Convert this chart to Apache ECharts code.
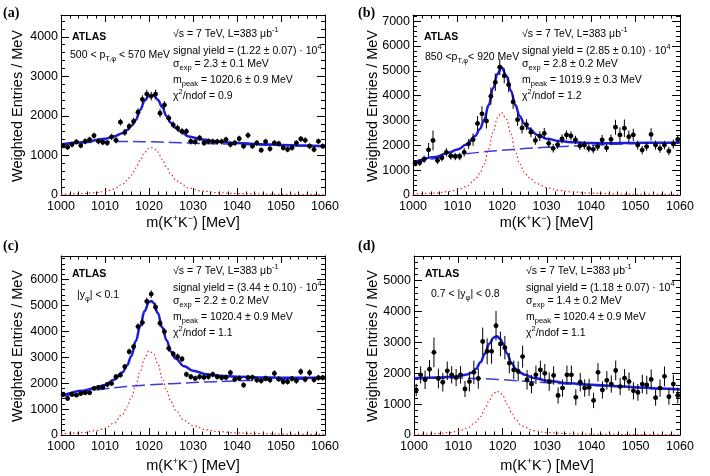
<!DOCTYPE html>
<html>
<head>
<meta charset="utf-8">
<script src="https://cdn.jsdelivr.net/npm/echarts@6/dist/echarts.min.js"></script>
<style>
  html, body { margin: 0; padding: 0; background: #fff; }
  #chart { width: 710px; height: 476px; }
</style>
</head>
<body>
<div id="chart"></div>
<script>
// bin centres, MeV
const massBins = [1000.5,1001.5,1002.5,1003.5,1004.5,1005.5,1006.5,1007.5,1008.5,1009.5,
  1010.5,1011.5,1012.5,1013.5,1014.5,1015.5,1016.5,1017.5,1018.5,1019.5,
  1020.5,1021.5,1022.5,1023.5,1024.5,1025.5,1026.5,1027.5,1028.5,1029.5,
  1030.5,1031.5,1032.5,1033.5,1034.5,1035.5,1036.5,1037.5,1038.5,1039.5,
  1040.5,1041.5,1042.5,1043.5,1044.5,1045.5,1046.5,1047.5,1048.5,1049.5,
  1050.5,1051.5,1052.5,1053.5,1054.5,1055.5,1056.5,1057.5,1058.5,1059.5];

// (a) 500 < pT < 570 MeV
const countsA = [1250,1208,1275,1342,1250,1358,1400,1500,1358,1333,
  1317,1467,1383,1842,1583,1733,1858,2092,2417,2550,
  2500,2550,2067,2275,1942,1775,1692,1608,1608,1358,
  1342,1442,1317,1358,1350,1350,1350,1400,1275,1317,
  1425,1233,1508,1233,1317,1133,1350,1167,1317,1300,
  1192,1150,1192,1317,1417,1383,1233,1150,1358,1233];
const errA = [70,70,70,70,70,75,75,75,75,75,
  75,80,80,85,85,90,95,100,105,110,
  110,110,105,100,95,90,85,85,80,80,
  75,75,75,75,75,75,75,75,75,75,
  75,75,75,75,75,70,70,70,70,70,
  70,70,70,70,75,75,75,70,70,70];
const fitAX = [1000,1005,1010,1012,1014,1015,1016,1017,1018,1019,1020,1020.6,1021,1022,1023,1024,1025,1026,1027,1029,1032,1036,1040,1045,1050,1055,1060];
const fitAY = [1280,1335,1420,1480,1560,1640,1750,1900,2150,2380,2510,2530,2520,2410,2220,1990,1820,1700,1620,1480,1400,1345,1315,1285,1265,1250,1235];
const bgAX = [1000,1005,1010,1015,1020,1025,1030,1035,1040,1045,1050,1055,1060];
const bgAY = [1275,1320,1350,1355,1345,1330,1310,1295,1280,1265,1250,1240,1225];
const sigAX = [1000,1004,1008,1010,1012,1014,1015,1016,1017,1018,1019,1020,1020.5,1021,1022,1023,1024,1025,1026,1027,1029,1032,1036,1040,1050,1060];
const sigAY = [15,30,60,90,150,270,370,500,680,880,1080,1190,1200,1190,1090,900,700,520,390,300,180,100,55,35,15,8];

// (b) 850 < pT < 920 MeV
const countsB = [1280,1300,1440,1820,2200,1390,1500,1720,1570,1550,
  1550,1720,2060,2230,2880,3270,2980,3980,4540,5150,
  4800,4440,3750,3030,2700,2830,2530,2200,2370,2480,
  2080,1880,2030,2260,2420,2380,2220,1980,2010,1880,
  1840,1950,2220,1900,2240,2730,2420,2690,2350,2420,
  2010,1810,1950,2440,2010,1870,2010,1770,2050,2240];
const errB = [120,130,150,280,400,150,150,170,150,150,
  150,170,200,250,300,300,300,350,350,320,
  300,300,280,250,230,220,200,180,200,220,
  180,170,170,180,180,180,170,170,170,160,
  160,170,200,170,200,300,300,350,250,250,
  180,170,170,250,180,170,170,170,180,180];
const fitBX = [1000,1005,1008,1010,1012,1014,1015,1016,1017,1018,1019,1019.9,1021,1022,1023,1024,1025,1026,1028,1030,1033,1036,1040,1045,1050,1055,1060];
const fitBY = [1290,1530,1700,1830,2030,2380,2650,3030,3620,4300,4880,5150,4800,4200,3620,3170,2880,2680,2420,2270,2170,2120,2090,2085,2095,2105,2115];
const bgBX = [1000,1005,1010,1015,1020,1025,1030,1035,1040,1045,1050,1055,1060];
const bgBY = [1280,1470,1610,1720,1800,1870,1920,1960,2000,2040,2070,2090,2110];
const sigBX = [1000,1005,1008,1010,1012,1014,1015,1016,1017,1018,1019,1019.9,1021,1022,1023,1024,1025,1026,1028,1030,1033,1036,1040,1045,1050,1060];
const sigBY = [30,75,140,210,340,620,870,1250,1850,2550,3120,3320,3050,2450,1750,1250,920,700,450,300,180,120,75,45,30,18];

// (c) |y| < 0.1
const countsC = [1574,1407,1561,1536,1600,1626,1626,1794,1832,1832,
  1948,1987,2245,2310,2632,3213,3406,4180,4335,5148,
  5431,4928,4309,3987,3341,3122,3019,2929,2335,2245,
  2180,2245,2219,2245,2335,2245,2206,2219,2400,2142,
  2180,1923,2206,2219,2116,2090,2180,2116,2374,2155,
  2052,2052,2168,2090,2439,2142,2400,2129,2206,2206];
const errC = [80,80,80,80,80,80,80,80,90,90,
  90,100,100,100,110,120,120,130,140,150,
  150,150,140,130,130,120,120,120,110,110,
  110,110,110,110,110,110,110,110,110,110,
  110,110,110,110,110,110,110,110,120,110,
  110,110,110,110,130,120,130,110,110,110];
const fitCX = [1000,1005,1008,1010,1012,1014,1015,1016,1017,1018,1019,1020,1020.5,1021,1022,1023,1024,1025,1026,1028,1030,1033,1036,1040,1045,1050,1055,1060];
const fitCY = [1490,1710,1830,1930,2130,2420,2680,3050,3620,4200,4780,5120,5170,5100,4700,4150,3650,3210,2950,2650,2480,2340,2280,2245,2220,2210,2205,2205];
const bgCX = [1000,1005,1010,1015,1020,1025,1030,1035,1040,1045,1050,1055,1060];
const bgCY = [1470,1650,1780,1870,1930,1980,2020,2055,2085,2110,2130,2150,2165];
const sigCX = [1000,1005,1008,1010,1012,1014,1015,1016,1017,1018,1019,1020,1021,1022,1023,1024,1025,1026,1028,1030,1033,1036,1040,1045,1050,1055,1060];
const sigCY = [40,90,170,260,450,800,1080,1450,1920,2450,2950,3240,3150,2750,2200,1700,1280,960,560,360,200,130,80,50,35,25,20];

// (d) 0.7 < |y| < 0.8
const countsD = [1460,1950,1790,2130,2680,1830,1710,2080,1950,1860,
  1950,1490,1730,2030,1830,3030,2710,2710,3540,2950,
  2830,2330,2110,2060,2540,1790,1650,1950,2110,2000,
  1730,1930,1280,1520,1950,1950,1220,1710,1520,1540,
  1120,2030,1460,1770,1650,2090,1570,1840,1730,1430,
  1380,1650,1620,1800,1210,1520,1900,1240,1650,1280];
const errD = [200,280,300,300,480,320,300,300,280,280,
  280,260,320,380,330,450,420,400,480,400,
  380,330,300,320,360,320,300,300,300,300,
  300,300,260,280,300,300,260,300,280,280,
  250,300,280,300,280,320,280,300,300,280,
  270,300,300,320,260,280,320,260,300,260];
const fitDX = [1000,1005,1008,1010,1012,1013,1014,1015,1016,1017,1018,1018.7,1019.5,1020,1021,1022,1023,1024,1025,1027,1030,1035,1040,1045,1050,1055,1060];
const fitDY = [1835,1860,1880,1900,1960,2020,2150,2360,2640,2960,3160,3200,3110,2980,2640,2330,2130,2020,1950,1850,1760,1680,1630,1590,1550,1510,1475];
const bgDX = [1000,1005,1010,1015,1020,1025,1030,1035,1040,1045,1050,1055,1060];
const bgDY = [1820,1840,1845,1830,1790,1740,1695,1650,1610,1570,1535,1500,1470];
const sigDX = [1000,1005,1008,1010,1012,1014,1015,1016,1017,1018,1018.7,1019.5,1020,1021,1022,1023,1024,1025,1027,1030,1035,1040,1050,1060];
const sigDY = [15,40,80,120,220,420,600,850,1130,1350,1420,1370,1280,1000,720,490,340,250,140,80,40,25,12,8];

// text per panel
const panelTags = ['(a)', '(b)', '(c)', '(d)'];
const cutLabels = ['500 < p{sub|T,φ} < 570 MeV', '850 <p{sub|T,φ}< 920 MeV', '|y{sub|φ}| < 0.1', '0.7 < |y{sub|φ}| < 0.8'];
const yieldLabels = ['(1.22 ± 0.07)', '(2.85 ± 0.10)', '(3.44 ± 0.10)', '(1.18 ± 0.07)'];
const sigmaLabels = ['2.3 ± 0.1', '2.8 ± 0.2', '2.2 ± 0.2', '1.4 ± 0.2'];
const peakLabels = ['1020.6 ± 0.9', '1019.9 ± 0.3', '1020.4 ± 0.9', '1020.4 ± 0.9'];
const chi2Labels = ['0.9', '1.2', '1.1', '1.1'];
const yMaxes = [4550, 7250, 6900, 5800];

const FONT = '"Liberation Sans", Arial, Helvetica, sans-serif';

// layout of the 4 pads (tagY: panel letter, ty: text block base, cutX/cutY: cut label, xtY: x title)
const pads = [
  { left: 61, top: 15, width: 264, height: 180, ox: 0, tagY: 13, ty: 15, txtX: 173, cutX: 70, cutY: 55, xtY: 223, ytY: 106 },
  { left: 413, top: 15, width: 267, height: 180, ox: 355, tagY: 13, ty: 15, txtX: 522, cutX: 425, cutY: 57, xtY: 223, ytY: 106 },
  { left: 61, top: 256, width: 264, height: 179, ox: 0, tagY: 246, ty: 252, txtX: 173, cutX: 77, cutY: 295, xtY: 466, ytY: 346 },
  { left: 414, top: 256, width: 266, height: 179, ox: 355, tagY: 246, ty: 252, txtX: 526, cutX: 431, cutY: 294, xtY: 466, ytY: 346 }
];

const panelData = [
  { counts: countsA, err: errA, fit: [fitAX, fitAY], bg: [bgAX, bgAY], sig: [sigAX, sigAY] },
  { counts: countsB, err: errB, fit: [fitBX, fitBY], bg: [bgBX, bgBY], sig: [sigBX, sigBY] },
  { counts: countsC, err: errC, fit: [fitCX, fitCY], bg: [bgCX, bgCY], sig: [sigCX, sigCY] },
  { counts: countsD, err: errD, fit: [fitDX, fitDY], bg: [bgDX, bgDY], sig: [sigDX, sigDY] }
];

const rich = {
  sub: { fontSize: 7.5, fontFamily: FONT, fill: '#000', lineHeight: 8, verticalAlign: 'bottom' },
  sup: { fontSize: 7.5, fontFamily: FONT, fill: '#000', lineHeight: 8, verticalAlign: 'top' }
};
const richBig = {
  sup: { fontSize: 9, fontFamily: FONT, fill: '#000', lineHeight: 9, verticalAlign: 'top' }
};

function pairs(xs, ys) {
  return xs.map((x, i) => [x, ys[i]]);
}

function renderPoint(params, api) {
  const x = api.value(0), y = api.value(1), e = api.value(2);
  const c = api.coord([x, y]);
  const hi = api.coord([x, y + e]);
  const lo = api.coord([x, y - e]);
  const l = api.coord([x - 0.5, y]);
  const r = api.coord([x + 0.5, y]);
  const ls = { stroke: '#000', lineWidth: 1 };
  return {
    type: 'group',
    children: [
      { type: 'line', shape: { x1: c[0], y1: hi[1], x2: c[0], y2: lo[1] }, style: ls },
      { type: 'line', shape: { x1: l[0], y1: c[1], x2: r[0], y2: c[1] }, style: ls },
      { type: 'circle', shape: { cx: c[0], cy: c[1], r: 2.4 }, style: { fill: '#000' } }
    ]
  };
}

function text(x, y, str, extra) {
  return {
    type: 'text', x: x, y: y, silent: true,
    style: Object.assign({
      text: str, fill: '#000', fontFamily: FONT, fontSize: 10.5,
      lineHeight: 16, textVerticalAlign: 'middle', rich: rich
    }, extra || {})
  };
}

const plain = v => String(v);
const grids = [], xAxes = [], yAxes = [], series = [], graphics = [];

pads.forEach((p, i) => {
  grids.push({ left: p.left, top: p.top, width: p.width, height: p.height });

  const tick = { lineStyle: { color: '#000', width: 1 } };
  const xBase = {
    gridIndex: i, type: 'value', min: 1000, max: 1060, interval: 10,
    axisLine: { onZero: false, lineStyle: { color: '#000', width: 1 } },
    axisTick: Object.assign({ inside: true, length: 7 }, tick),
    minorTick: Object.assign({ show: true, splitNumber: 5, length: 3.5 }, tick),
    splitLine: { show: false }
  };
  xAxes.push(Object.assign({}, xBase, {
    position: 'bottom',
    axisLabel: { fontSize: 12.5, color: '#000', fontFamily: FONT, margin: 5, formatter: plain }
  }));
  xAxes.push(Object.assign({}, xBase, { position: 'top', axisLabel: { show: false } }));

  const yBase = {
    gridIndex: i, type: 'value', min: 0, max: yMaxes[i], interval: 1000,
    axisLine: { onZero: false, lineStyle: { color: '#000', width: 1 } },
    axisTick: Object.assign({ inside: true, length: 8 }, tick),
    minorTick: Object.assign({ show: true, splitNumber: 5, length: 4 }, tick),
    splitLine: { show: false }
  };
  yAxes.push(Object.assign({}, yBase, {
    position: 'left',
    axisLabel: { fontSize: 12.5, color: '#000', fontFamily: FONT, margin: 3, showMaxLabel: false, formatter: plain }
  }));
  yAxes.push(Object.assign({}, yBase, { position: 'right', axisLabel: { show: false } }));

  const d = panelData[i];
  const ax = { xAxisIndex: 2 * i, yAxisIndex: 2 * i };
  series.push(Object.assign({
    type: 'line', data: pairs(d.sig[0], d.sig[1]), showSymbol: false, smooth: 0.4, smoothMonotone: 'x',
    lineStyle: { color: '#e8262a', width: 1.2, type: [1.5, 2.5] }, z: 2
  }, ax));
  series.push(Object.assign({
    type: 'line', data: pairs(d.bg[0], d.bg[1]), showSymbol: false, smooth: 0.4,
    lineStyle: { color: '#3a3ae0', width: 1.5, type: [13, 5] }, z: 3
  }, ax));
  series.push(Object.assign({
    type: 'line', data: pairs(d.fit[0], d.fit[1]), showSymbol: false, smooth: 0.4, smoothMonotone: 'x',
    lineStyle: { color: '#1c1cdc', width: 2.5 }, z: 4
  }, ax));
  series.push(Object.assign({
    type: 'custom', renderItem: renderPoint, z: 5,
    data: massBins.map((m, k) => [m, d.counts[k], d.err[k]])
  }, ax));

  // pad texts
  graphics.push(text(p.ox + 3, p.tagY, panelTags[i], {
    fontFamily: '"Liberation Serif", "Times New Roman", serif', fontWeight: 'bold', fontSize: 14
  }));
  graphics.push(text(p.left + 11, p.ty + 22, 'ATLAS', { fontWeight: 'bold', fontSize: 10.5 }));
  graphics.push(text(p.cutX, p.cutY, cutLabels[i]));
  const tx = p.txtX, ty = p.ty;
  graphics.push(text(tx, ty + 19, '√s = 7 TeV, L=383 μb{sup|-1}'));
  graphics.push(text(tx, ty + 36, 'signal yield = ' + yieldLabels[i] + ' · 10{sup|4}'));
  graphics.push(text(tx, ty + 49, 'σ{sub|exp} = ' + sigmaLabels[i] + ' MeV'));
  graphics.push(text(tx, ty + 65, 'm{sub|peak} = ' + peakLabels[i] + ' MeV'));
  graphics.push(text(tx, ty + 81, 'χ{sup|2}/ndof = ' + chi2Labels[i]));

  // axis titles
  graphics.push(text(p.left + p.width / 2, p.xtY, 'm(K{sup|+}K{sup|−}) [MeV]', {
    fontSize: 14.5, textAlign: 'center', lineHeight: 18, rich: richBig
  }));
  graphics.push({
    type: 'text', x: p.ox + 18, y: p.ytY, rotation: Math.PI / 2, silent: true,
    style: {
      text: 'Weighted Entries / MeV', fill: '#000', fontFamily: FONT, fontSize: 14.5,
      textAlign: 'center', textVerticalAlign: 'middle'
    }
  });
});

const chart = echarts.init(document.getElementById('chart'), null, { renderer: 'canvas' });
chart.setOption({
  animation: false,
  backgroundColor: '#fff',
  grid: grids,
  xAxis: xAxes,
  yAxis: yAxes,
  series: series,
  graphic: { elements: graphics }
});
</script>
</body>
</html>
